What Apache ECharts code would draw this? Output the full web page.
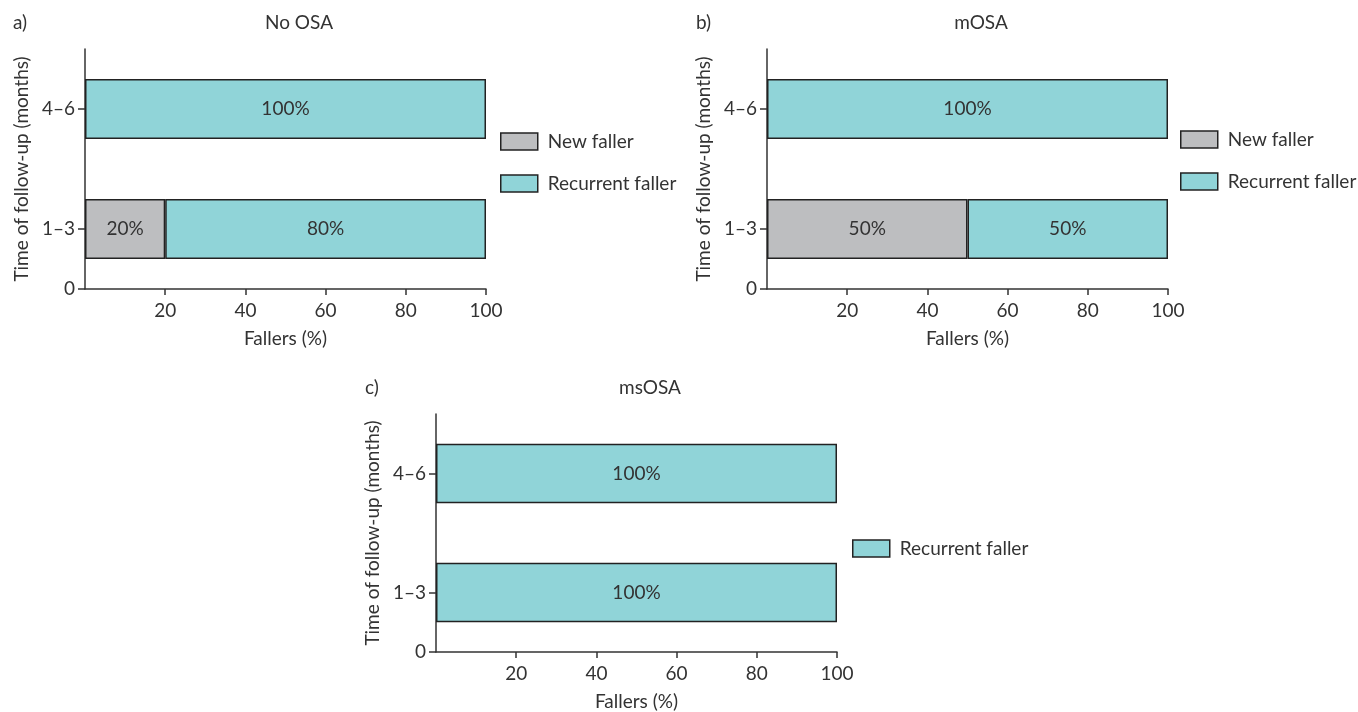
<!DOCTYPE html>
<html>
<head>
<meta charset="utf-8">
<script src="https://cdn.jsdelivr.net/npm/echarts@6/dist/echarts.min.js"></script>
<style>
html,body{margin:0;padding:0;background:#fff;}
#c{width:1358px;height:712px;}
</style>
</head>
<body>
<div id="c"></div>
<script>
const categories = ['1–3', '4–6'];
const xTickValues = [20, 40, 60, 80, 100];
const panelTitles = ['No OSA', 'mOSA', 'msOSA'];
const panelLetters = ['a)', 'b)', 'c)'];
const seriesNames = ['New faller', 'Recurrent faller'];
const newFallerA = [20, null];
const recurrentA = [80, 100];
const newFallerB = [50, null];
const recurrentB = [50, 100];
const recurrentC = [100, 100];

const FONT = 'Lato, "Noto Sans", sans-serif';
const TXT = '#333333';
const AX = '#333333';
const GRAY = '#bdbec0';
const TEAL = '#90d4d8';
const FS = 19;

const grids = [
  {left: 85, top: 49, width: 401, height: 240},
  {left: 767, top: 49, width: 401, height: 240},
  {left: 436, top: 414, width: 401, height: 240}
];

function xAxisFor(i) {
  return {
    type: 'value', gridIndex: i, min: 0, max: 100, interval: 20,
    name: 'Fallers (%)', nameLocation: 'middle', nameGap: 40,
    nameTextStyle: {color: TXT, fontSize: FS, fontFamily: FONT},
    axisLine: {show: true, lineStyle: {color: AX, width: 1.5}},
    axisTick: {show: true, length: 6, customValues: xTickValues, lineStyle: {color: AX, width: 1.5}},
    axisLabel: {color: TXT, fontSize: FS, fontFamily: FONT, margin: 12, customValues: xTickValues},
    splitLine: {show: false}
  };
}
function yCatFor(i) {
  return {
    type: 'category', gridIndex: i, data: categories,
    name: 'Time of follow-up (months)', nameLocation: 'middle', nameRotate: 90, nameGap: 54,
    nameTextStyle: {color: TXT, fontSize: FS, fontFamily: FONT},
    axisLine: {show: true, lineStyle: {color: AX, width: 1.5}},
    axisTick: {show: true, alignWithLabel: true, length: 7, lineStyle: {color: AX, width: 1.5}},
    axisLabel: {color: TXT, fontSize: FS, fontFamily: FONT, margin: 10},
    splitLine: {show: false}
  };
}
function yZeroFor(i) {
  return {
    type: 'value', gridIndex: i, position: 'left', min: 0, max: 1,
    axisLine: {show: false},
    axisTick: {show: true, length: 7, customValues: [0], lineStyle: {color: AX, width: 1.5}},
    axisLabel: {color: TXT, fontSize: FS, fontFamily: FONT, margin: 10, customValues: [0]},
    splitLine: {show: false}
  };
}

function barSeries(name, data, gi, color) {
  return {
    name: name, type: 'bar', stack: 'g' + gi,
    xAxisIndex: gi, yAxisIndex: gi * 2,
    data: data, barWidth: '50%',
    itemStyle: {color: color, borderColor: '#222222', borderWidth: 1.5},
    label: {
      show: true, position: 'inside', color: TXT, fontSize: FS, fontFamily: FONT,
      formatter: p => (p.value == null ? '' : p.value + '%')
    }
  };
}

const legendBase = {
  orient: 'vertical', icon: 'rect', itemWidth: 37, itemHeight: 17, itemGap: 23,
  textStyle: {color: TXT, fontSize: FS, fontFamily: FONT, padding: [0, 0, 0, 5]},
  itemStyle: {borderColor: '#222222', borderWidth: 1.5}
};

const titlePos = [[299, 23], [981, 23], [650, 388]];
const letterPos = [[13, 23], [696, 23], [365, 388]];
const graphics = [];
for (let i = 0; i < 3; i++) {
  graphics.push({type: 'text', x: titlePos[i][0], y: titlePos[i][1],
    style: {text: panelTitles[i], fill: TXT, font: FS + 'px ' + FONT, textAlign: 'center', textVerticalAlign: 'middle'}});
  graphics.push({type: 'text', x: letterPos[i][0], y: letterPos[i][1],
    style: {text: panelLetters[i], fill: TXT, font: FS + 'px ' + FONT, textAlign: 'left', textVerticalAlign: 'middle'}});
}

const option = {
  animation: false,
  backgroundColor: '#ffffff',
  grid: grids,
  xAxis: [xAxisFor(0), xAxisFor(1), xAxisFor(2)],
  yAxis: [yCatFor(0), yZeroFor(0), yCatFor(1), yZeroFor(1), yCatFor(2), yZeroFor(2)],
  legend: [
    Object.assign({}, legendBase, {left: 495, top: 127, data: seriesNames}),
    Object.assign({}, legendBase, {left: 1175, top: 125, data: seriesNames}),
    Object.assign({}, legendBase, {left: 847, top: 534, data: [seriesNames[1]]})
  ],
  series: [
    barSeries(seriesNames[0], newFallerA, 0, GRAY),
    barSeries(seriesNames[1], recurrentA, 0, TEAL),
    barSeries(seriesNames[0], newFallerB, 1, GRAY),
    barSeries(seriesNames[1], recurrentB, 1, TEAL),
    barSeries(seriesNames[1], recurrentC, 2, TEAL)
  ],
  graphic: graphics
};

const chart = echarts.init(document.getElementById('c'), null, {renderer: 'canvas'});
chart.setOption(option);
</script>
</body>
</html>
